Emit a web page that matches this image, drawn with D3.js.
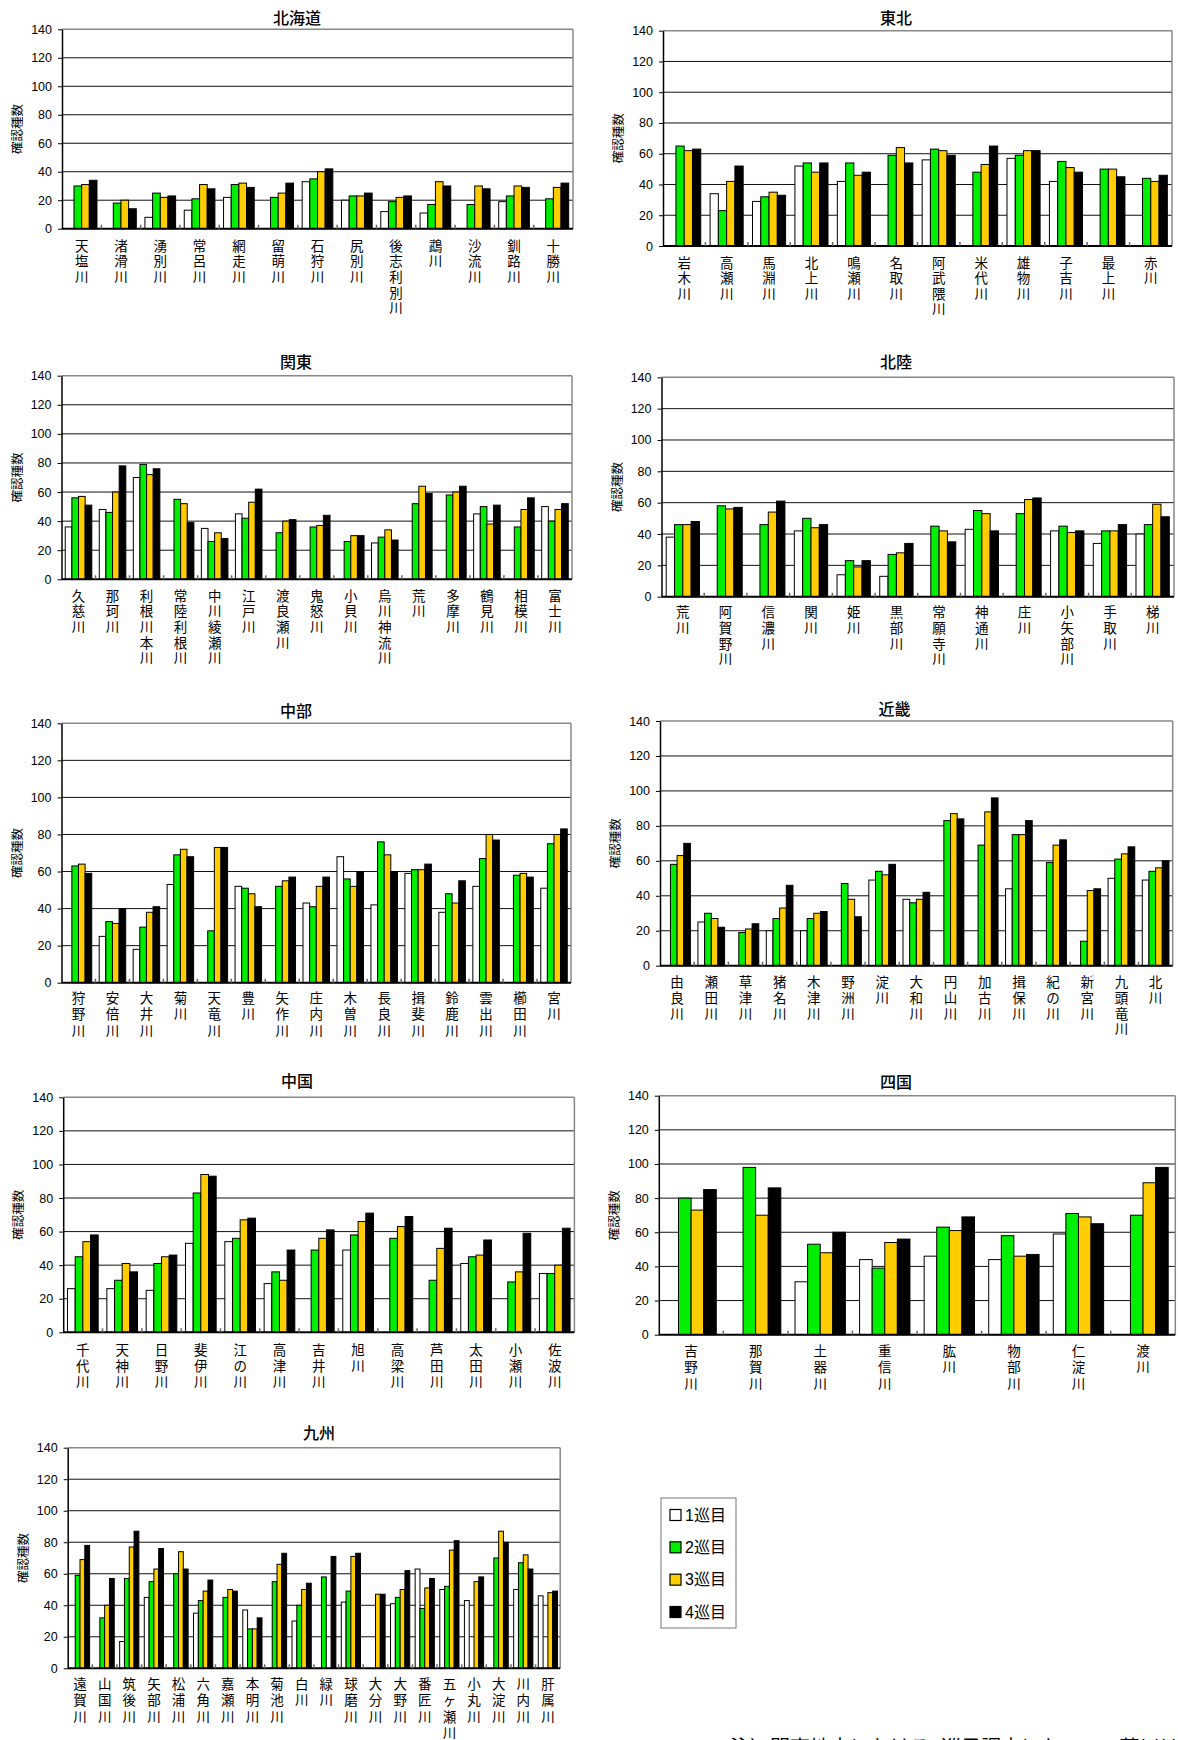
<!DOCTYPE html>
<html><head><meta charset="utf-8">
<script src="https://cdn.jsdelivr.net/npm/d3@7"></script>
<style>
body{margin:0;background:#fff}
svg{display:block}
text{font-family:"Liberation Sans","Noto Sans CJK JP",sans-serif;fill:#000}
</style>
</head><body>
<svg id="c" width="1178" height="1740"></svg>
<script>
const seriesNames = ["1巡目","2巡目","3巡目","4巡目"];
const seriesColors = ["#ffffff","#00ee00","#ffcc00","#000000"];
const yTicks = [0,20,40,60,80,100,120,140];
const yAxisTitle = "確認種数";
const note = "注）関東地方における1巡目調査において、荒川は";

// 北海道
const hokkaidoRivers = ["天塩川","渚滑川","湧別川","常呂川","網走川","留萌川","石狩川","尻別川","後志利別川","鵡川","沙流川","釧路川","十勝川"];
const hokkaidoR1 = [null,null,8,13,22,null,33,20,12,11,null,19,null];
const hokkaidoR2 = [30,18,25,21,31,22,35,23,19,17,17,23,21];
const hokkaidoR3 = [31,20,22,31,32,25,40,23,22,33,30,30,29];
const hokkaidoR4 = [34,14,23,28,29,32,42,25,23,30,28,29,32];

// 東北
const tohokuRivers = ["岩木川","高瀬川","馬淵川","北上川","鳴瀬川","名取川","阿武隈川","米代川","雄物川","子吉川","最上川","赤川"];
const tohokuR1 = [null,34,29,52,42,null,56,null,57,42,null,null];
const tohokuR2 = [65,23,32,54,54,59,63,48,59,55,50,44];
const tohokuR3 = [62,42,35,48,46,64,62,53,62,51,50,42];
const tohokuR4 = [63,52,33,54,48,54,59,65,62,48,45,46];

// 関東
const kantoRivers = ["久慈川","那珂川","利根川本川","常陸利根川","中川綾瀬川","江戸川","渡良瀬川","鬼怒川","小貝川","烏川神流川","荒川","多摩川","鶴見川","相模川","富士川"];
const kantoR1 = [36,48,70,null,35,45,null,null,null,25,null,null,45,null,50];
const kantoR2 = [56,46,79,55,26,42,32,36,26,29,52,58,50,36,40];
const kantoR3 = [57,60,72,52,32,53,40,37,30,34,64,60,38,48,48];
const kantoR4 = [51,78,76,39,28,62,41,44,30,27,59,64,51,56,52];

// 北陸
const hokurikuRivers = ["荒川","阿賀野川","信濃川","関川","姫川","黒部川","常願寺川","神通川","庄川","小矢部川","手取川","梯川"];
const hokurikuR1 = [38,null,null,42,14,13,null,43,null,42,34,40];
const hokurikuR2 = [46,58,46,50,23,27,45,55,53,45,42,46];
const hokurikuR3 = [46,56,54,44,19,28,42,53,62,41,42,59];
const hokurikuR4 = [48,57,61,46,23,34,35,42,63,42,46,51];

// 中部
const chubuRivers = ["狩野川","安倍川","大井川","菊川","天竜川","豊川","矢作川","庄内川","木曽川","長良川","揖斐川","鈴鹿川","雲出川","櫛田川","宮川"];
const chubuR1 = [null,25,18,53,null,52,null,43,68,42,59,38,52,null,51];
const chubuR2 = [63,33,30,69,28,51,52,41,56,76,61,48,67,58,75];
const chubuR3 = [64,32,38,72,73,48,55,52,52,69,61,43,80,59,80];
const chubuR4 = [59,40,41,68,73,41,57,57,60,60,64,55,77,57,83];

// 近畿
const kinkiRivers = ["由良川","瀬田川","草津川","猪名川","木津川","野洲川","淀川","大和川","円山川","加古川","揖保川","紀の川","新宮川","九頭竜川","北川"];
const kinkiR1 = [null,25,null,20,20,null,49,38,null,null,44,null,null,50,49];
const kinkiR2 = [58,30,19,27,27,47,54,36,83,69,75,59,14,61,54];
const kinkiR3 = [63,27,21,33,30,38,52,38,87,88,75,69,43,64,56];
const kinkiR4 = [70,22,24,46,31,28,58,42,84,96,83,72,44,68,60];

// 中国
const chugokuRivers = ["千代川","天神川","日野川","斐伊川","江の川","高津川","吉井川","旭川","高梁川","芦田川","太田川","小瀬川","佐波川"];
const chugokuR1 = [26,26,25,53,54,29,null,49,null,null,41,null,35];
const chugokuR2 = [45,31,41,83,56,36,49,58,56,31,45,30,35];
const chugokuR3 = [54,41,45,94,67,31,56,66,63,50,46,36,40];
const chugokuR4 = [58,36,46,93,68,49,61,71,69,62,55,59,62];

// 四国
const shikokuRivers = ["吉野川","那賀川","土器川","重信川","肱川","物部川","仁淀川","渡川"];
const shikokuR1 = [null,null,31,44,46,44,59,null];
const shikokuR2 = [80,98,53,39,63,58,71,70];
const shikokuR3 = [73,70,48,54,61,46,69,89];
const shikokuR4 = [85,86,60,56,69,47,65,98];

// 九州
const kyushuRivers = ["遠賀川","山国川","筑後川","矢部川","松浦川","六角川","嘉瀬川","本明川","菊池川","白川","緑川","球磨川","大分川","大野川","番匠川","五ヶ瀬川","小丸川","大淀川","川内川","肝属川"];
const kyushuR1 = [null,null,17,45,null,35,null,37,null,30,null,42,null,41,63,50,43,null,50,46];
const kyushuR2 = [59,32,57,55,60,43,45,25,55,40,58,49,null,45,38,52,null,70,67,null];
const kyushuR3 = [69,40,77,63,74,49,50,25,66,50,null,71,47,50,51,75,55,87,72,48];
const kyushuR4 = [78,57,87,76,63,56,49,32,73,54,71,73,47,62,57,81,58,80,63,49];

const regions = [
  {name:"北海道", rivers:hokkaidoRivers, series:[hokkaidoR1,hokkaidoR2,hokkaidoR3,hokkaidoR4]},
  {name:"東北", rivers:tohokuRivers, series:[tohokuR1,tohokuR2,tohokuR3,tohokuR4]},
  {name:"関東", rivers:kantoRivers, series:[kantoR1,kantoR2,kantoR3,kantoR4]},
  {name:"北陸", rivers:hokurikuRivers, series:[hokurikuR1,hokurikuR2,hokurikuR3,hokurikuR4]},
  {name:"中部", rivers:chubuRivers, series:[chubuR1,chubuR2,chubuR3,chubuR4]},
  {name:"近畿", rivers:kinkiRivers, series:[kinkiR1,kinkiR2,kinkiR3,kinkiR4]},
  {name:"中国", rivers:chugokuRivers, series:[chugokuR1,chugokuR2,chugokuR3,chugokuR4]},
  {name:"四国", rivers:shikokuRivers, series:[shikokuR1,shikokuR2,shikokuR3,shikokuR4]},
  {name:"九州", rivers:kyushuRivers, series:[kyushuR1,kyushuR2,kyushuR3,kyushuR4]}
];

// layout (positions only)
const layouts = [
  {L:62,   R:573,   T:29.3,   B:228.7,  tx:297,   ty:18,    ly:246,   dy:15.7},
  {L:663,  R:1172,  T:30.7,   B:246,    tx:896,   ty:18,    ly:263,   dy:15.5},
  {L:61.5, R:572,   T:375.7,  B:579.3,  tx:296,   ty:362.7, ly:596,   dy:15.7},
  {L:661.5,R:1174,  T:377.3,  B:596.7,  tx:896,   ty:362.7, ly:612.7, dy:15.7},
  {L:61.5, R:571,   T:723.3,  B:982.7,  tx:296,   ty:711,   ly:998.3, dy:16.5},
  {L:660,  R:1172.7,T:721,    B:965.7,  tx:894.5, ty:709.3, ly:982.7, dy:15.7},
  {L:63.2, R:574.4, T:1097.3, B:1332.3, tx:297,   ty:1081,  ly:1350,  dy:16},
  {L:658.8,R:1175.3,T:1095.7, B:1334.7, tx:896,   ty:1082.3,ly:1351,  dy:16.5},
  {L:67.7, R:560.2, T:1447.7, B:1668.3, tx:319,   ty:1433.3,ly:1684.3,dy:16.5}
];

const svg = d3.select("#c");

regions.forEach((reg, ri) => {
  const lo = layouts[ri];
  const g = svg.append("g");
  const x = d3.scaleBand().domain(reg.rivers).range([lo.L, lo.R]).paddingInner(0.22).paddingOuter(0.11);
  const xs = d3.scaleBand().domain(d3.range(4)).range([0, x.bandwidth()]).padding(0);
  const y = d3.scaleLinear().domain([0,140]).range([lo.B, lo.T]);

  // title
  g.append("text").attr("x", lo.tx).attr("y", lo.ty).attr("text-anchor","middle")
    .attr("dominant-baseline","central").attr("font-size",16).attr("font-weight",500).text(reg.name);

  // gridlines
  g.selectAll("line.grid").data(yTicks.filter(v => v > 0 && v < 140)).join("line")
    .attr("x1", lo.L).attr("x2", lo.R).attr("y1", d => y(d)).attr("y2", d => y(d))
    .attr("stroke","#111").attr("stroke-width",1);
  // top & right border
  g.append("line").attr("x1",lo.L).attr("x2",lo.R).attr("y1",y(140)).attr("y2",y(140)).attr("stroke","#888").attr("stroke-width",1.5);
  g.append("line").attr("x1",lo.R).attr("x2",lo.R).attr("y1",y(140)).attr("y2",y(0)).attr("stroke","#888").attr("stroke-width",1.5);

  // y axis
  const yAxis = d3.axisLeft(y).tickValues(yTicks).tickSize(4).tickSizeOuter(0).tickPadding(6);
  const ya = g.append("g").attr("transform", `translate(${lo.L},0)`).call(yAxis);
  ya.select(".domain").attr("stroke","#000").attr("stroke-width",1.5);
  ya.selectAll(".tick line").attr("stroke","#000");
  ya.selectAll(".tick text").attr("font-size",12.5).attr("font-family","Liberation Sans, sans-serif").attr("fill","#000");

  // y axis title
  g.append("text").attr("transform", `translate(${lo.L-44},${(lo.T+lo.B)/2}) rotate(-90)`)
    .attr("text-anchor","middle").attr("dominant-baseline","central").attr("font-size",12.5).text(yAxisTitle);

  // bars
  reg.series.forEach((vals, si) => {
    g.append("g").selectAll("rect").data(reg.rivers.map((r,i)=>({r, v:vals[i]})).filter(d => d.v != null))
      .join("rect")
      .attr("x", d => x(d.r) + xs(si))
      .attr("y", d => y(d.v))
      .attr("width", xs.bandwidth())
      .attr("height", d => y(0) - y(d.v))
      .attr("fill", seriesColors[si])
      .attr("stroke","#000").attr("stroke-width",1);
  });

  // bottom axis
  g.append("line").attr("x1",lo.L).attr("x2",lo.R).attr("y1",y(0)).attr("y2",y(0)).attr("stroke","#000").attr("stroke-width",2);
  // category boundary ticks
  const step = x.step();
  const bounds = d3.range(reg.rivers.length + 1).map(i => x(reg.rivers[0]) - x.paddingOuter()*step + i*step);
  g.selectAll("line.ct").data(bounds.slice(1, -1)).join("line")
    .attr("x1", d => d).attr("x2", d => d).attr("y1", y(0)).attr("y2", y(0)-4)
    .attr("stroke","#666").attr("stroke-width",1.5);

  // x labels (vertical stacked characters)
  reg.rivers.forEach(r => {
    const cx = x(r) + x.bandwidth()/2;
    const t = g.append("text").attr("text-anchor","middle").attr("font-size",13.5);
    Array.from(r).forEach((ch, k) => {
      t.append("tspan").attr("x", cx).attr("y", lo.ly + k*lo.dy).attr("dominant-baseline","central").text(ch);
    });
  });
});

// legend
const lg = svg.append("g");
lg.append("rect").attr("x",661).attr("y",1498).attr("width",75).attr("height",130)
  .attr("fill","#fff").attr("stroke","#777").attr("stroke-width",1);
const ly = d3.scalePoint().domain(seriesNames).range([1515, 1612]);
seriesNames.forEach((s, i) => {
  lg.append("rect").attr("x",670).attr("y",ly(s)-5.5).attr("width",11).attr("height",11)
    .attr("fill",seriesColors[i]).attr("stroke","#000").attr("stroke-width",1.2);
  lg.append("text").attr("x",685).attr("y",ly(s)).attr("dominant-baseline","central")
    .attr("font-size",16).text(s);
});

// bottom note (cut off by page edge)
svg.append("text").attr("x",730).attr("y",1755).attr("font-size",20).text(note);
</script>
</body></html>
